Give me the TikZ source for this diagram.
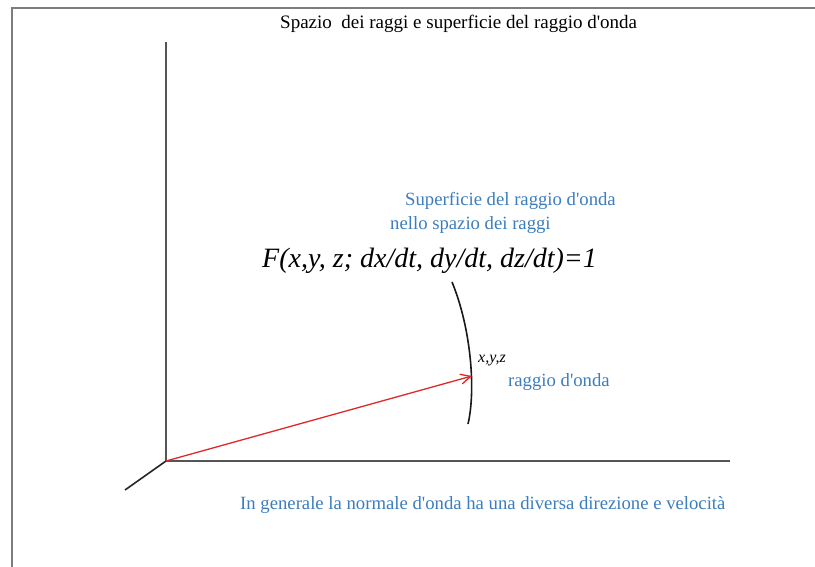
\documentclass[tikz,border=0pt]{standalone}
\usepackage{fontspec}
\setmainfont{Liberation Serif}
\usetikzlibrary{arrows.meta}
\definecolor{txtblue}{RGB}{60,125,190}
\definecolor{axisgray}{RGB}{85,85,85}
\definecolor{framegray}{RGB}{125,125,125}
\definecolor{arrred}{RGB}{225,40,40}
\tikzset{
  axis/.style={draw=axisgray, line width=1.6pt},
  frameline/.style={draw=framegray, line width=2pt},
  bluetxt/.style={text=txtblue, font=\fontsize{18.7}{21}\selectfont, inner sep=0pt, anchor=base west},
  blacktxt/.style={text=black, font=\fontsize{19}{21}\selectfont, inner sep=0pt, anchor=base west},
}
\newcommand{\apo}{\textquotesingle}
\begin{document}
\begin{tikzpicture}[x=1pt,y=-1pt]
\useasboundingbox (0,0) rectangle (815,567);
% frame
\draw[frameline] (12,567) -- (12,8) -- (815,8);
% axes
\coordinate (O) at (166,461);
\coordinate (Ztop) at (166,42);
\coordinate (Xend) at (730,461);
\coordinate (Yend) at (125,490);
\coordinate (P) at (472,376);
\coordinate (A1) at (452,282);
\coordinate (A2) at (468,424);
\draw[axis] (Ztop) -- (O) -- (Xend);
\draw[axis, draw=black!85] (O) -- (Yend);
% surface curve
\draw[black!90, line width=1.6pt] (A1) .. controls (471,328) and (476,390) .. (A2);
% ray
\draw[arrred, line width=1.3pt, -{Straight Barb[length=10pt,width=10pt]}] (O) -- (P);
% texts
\node[blacktxt] (title) at (280,29) {Spazio\ \ dei raggi e superficie del raggio d\apo onda};
\node[bluetxt] (sup1) at (405,206) {Superficie del raggio d\apo onda};
\node[bluetxt] (sup2) at (390,230) {nello spazio dei raggi};
\node[blacktxt, font=\fontsize{28}{30}\selectfont\itshape] (F) at (262,268) {F(x,y, z; dx/dt, dy/dt, dz/dt)=1};
\node[blacktxt, font=\fontsize{16}{18}\selectfont\itshape] (xyz) at (478,362) {x,y,z};
\node[bluetxt] (ray) at (508,386) {raggio d\apo onda};
\node[bluetxt] (gen) at (240,509) {In generale la normale d\apo onda ha una diversa direzione e velocità};
\end{tikzpicture}
\end{document}
